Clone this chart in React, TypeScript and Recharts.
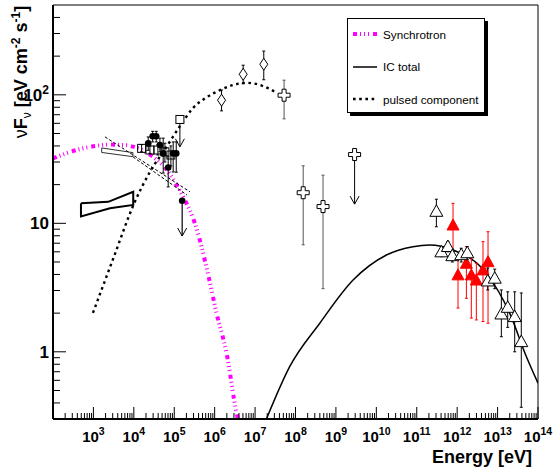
import React from 'react';
import { ComposedChart, Line, Scatter, XAxis, YAxis, ErrorBar, ReferenceArea, Legend } from 'recharts';

const FONT = '"Liberation Sans", Arial, Helvetica, sans-serif';

// energy [eV], nuF_nu [eV cm^-2 s^-1]
const synchrotron = [
  [1e2, 32.0], [1.98e2, 34.8], [4.65e2, 37.8], [1.09e3, 39.9], [2.56e3, 41.0], [6.03e3, 40.6],
  [1.06e4, 39.1], [1.88e4, 36.1], [3.33e4, 32.1], [5.87e4, 27.2], [1.04e5, 20.9], [1.83e5, 15.2],
  [3.24e5, 10.0], [6.79e5, 4.08], [1.11e6, 2.0], [1.97e6, 0.977], [3.48e6, 0.334], [3.75e6, 0.301],
];
const icTotal = [
  [1.92e7, 0.301], [7.23e7, 0.769], [3.99e8, 1.67], [2.66e9, 3.62], [1.78e10, 5.67], [8.07e10, 6.58],
  [2.09e11, 6.78], [7.87e11, 6.2], [5.27e12, 4.08], [1.99e13, 2.0], [5.14e13, 0.92], [1e14, 0.571],
];
const pulsed = [
  [975, 2.01], [3.13e3, 5.37], [1.0e4, 14.1], [2.5e4, 25.1], [6.47e4, 39.4], [1.38e5, 57.0],
  [2.89e5, 78.7], [6.07e5, 94.9], [1.35e6, 108.6], [2.82e6, 119], [6.15e6, 124], [1.58e7, 117],
  [3.39e7, 104],
];
const butterflyThick = [
  [492, 14.3], [2330, 14.7], [9660, 17.6], [9660, 13.9], [2560, 13.1], [492, 11.3], [492, 14.3],
];
const butterflyThin = [
  [1600, 38.6], [9500, 35.5], [9500, 33.0], [1600, 35.6], [1600, 38.6],
];
const slopeUpper = [[1.93e3, 47.1], [2.44e5, 17.6]];
const slopeLower = [[9.5e3, 32.9], [2.06e5, 16.6]];

// [E, F, low, high]
const xrayDots = [
  [2.27e4, 41.9, 37, 47], [2.92e4, 47.6, 43, 52], [3.58e4, 47.6, 43, 52], [4.42e4, 40.6, 36, 46],
  [5.33e4, 35.0, 24.6, 46], [7.08e4, 27.2, 19.2, 32.9], [9.42e4, 35.0, 25.1, 43], [1.12e5, 35.0, 25, 43],
];
const xraySquares = [
  [1.56e4, 38.3, 36, 41], [2.5e4, 37.2, 35, 40], [3.94e4, 37.2, 34, 41], [5.88e4, 36.0, 30, 42],
  [8.26e4, 34.0, 28, 40],
];
const diamonds = [[1.48e6, 90.8, 75, 109], [5.07e6, 144.5, 122, 170], [1.64e7, 173, 131, 219]];
const crosses = [[5.22e7, 99.3, 65, 130], [1.55e8, 17.3, 6.8, 28], [4.8e8, 13.5, 3.1, 23.7]];
const tevOpen = [
  [3.06e11, 12.4, 9.4, 15.4], [4.07e11, 6.0, 5.5, 6.6], [5.9e11, 6.6, 6.0, 7.2], [7.6e11, 5.6, 5.0, 6.3],
  [1.26e12, 5.7, 5.0, 6.4], [1.78e12, 5.9, 5.2, 6.6], [5.7e12, 3.56, 3.03, 4.49], [8.5e12, 3.74, 3.1, 4.4],
  [1.24e13, 1.97, 1.31, 3.03], [1.78e13, 2.22, 1.55, 2.93], [2.65e13, 1.88, 1.0, 2.93], [3.86e13, 1.2, 0.37, 2.87],
];
const tevRed = [
  [7.9e11, 9.7, 5.5, 14.3], [1.05e12, 3.97, 2.19, 5.35], [1.69e12, 4.89, 2.61, 6.58], [2.24e12, 3.97, 1.83, 5.37],
  [2.98e12, 3.62, 1.77, 4.89], [4.36e12, 4.34, 1.72, 7.2], [5.8e12, 5.03, 1.67, 8.6],
];
// upper limits [E, F, arrow end]
const squareLimit = [[1.38e5, 64.3, 39.4]];
const dotLimit = [[1.57e5, 15.0, 7.96]];
const crossLimit = [[2.9e9, 34.3, 14.1]];

const xDecades = [2, 3, 4, 5, 6, 7, 8, 9, 10, 11, 12, 13, 14];
const yDecades = [-1, 0, 1, 2];
const minorSteps = [2, 3, 4, 5, 6, 7, 8, 9];
const legendNames = ['Synchrotron', 'IC total', 'pulsed component'];

const xTicks = xDecades.flatMap((d) => [10 ** d, ...(d < 14 ? minorSteps.map((m) => m * 10 ** d) : [])]);
const yTicks = yDecades
  .flatMap((d) => [10 ** d, ...minorSteps.map((m) => m * 10 ** d)])
  .filter((v) => v > 0.301 && v < 499);

const curve = (pts: number[][]) => pts.map(([x, y]) => ({ x, y }));
const withErr = (pts: number[][]) => pts.map(([x, y, lo, hi]) => ({ x, y, err: [y - lo, hi - y] }));
const limitShaft = (pts: number[][]) => pts.map(([x, y, end]) => ({ x, y, err: [y - end, 0] }));
const limitTip = (pts: number[][]) => pts.map(([x, , end]) => ({ x, y: end }));

const isMajor = (v: number) => Math.abs(Math.log10(v) - Math.round(Math.log10(v))) < 1e-9;

const XTick = (props: any) => {
  const { x, y, payload } = props;
  const v = payload.value;
  const major = isMajor(v);
  const exp = Math.round(Math.log10(v));
  return (
    <g>
      <line x1={x} y1={y} x2={x} y2={y - (major ? 12 : 6)} stroke="#000" strokeWidth={1} />
      {major && exp > 2 && (
        <text x={x} y={y + 23} textAnchor="middle" fontFamily={FONT} fontWeight="bold" fontSize={15} fill="#000">
          10<tspan dy={-7} fontSize={10.5}>{exp}</tspan>
        </text>
      )}
    </g>
  );
};

const YTick = (props: any) => {
  const { x, y, payload } = props;
  const v = payload.value;
  const major = isMajor(v);
  const exp = Math.round(Math.log10(v));
  return (
    <g>
      <line x1={x} y1={y} x2={x + (major ? 13 : 7)} y2={y} stroke="#000" strokeWidth={1} />
      {major && (
        <text x={x - 4} y={y + 6} textAnchor="end" fontFamily={FONT} fontWeight="bold" fontSize={17} fill="#000">
          {exp === 0 ? '1' : '10'}
          {exp === 2 && <tspan dy={-7} fontSize={12}>2</tspan>}
        </text>
      )}
    </g>
  );
};

const XTitle = (props: any) => {
  const vb = props.viewBox;
  return (
    <text x={vb.x + vb.width - 6} y={vb.y + 44} textAnchor="end" fontFamily={FONT} fontWeight="bold" fontSize={18} fill="#000">
      Energy [eV]
    </text>
  );
};

const YTitle = (props: any) => {
  const vb = props.viewBox;
  return (
    <text
      transform={`translate(${vb.x + 27}, ${vb.y + 67}) rotate(-90)`}
      textAnchor="middle"
      fontFamily={FONT}
      fontWeight="bold"
      fontSize={18}
      fill="#000"
    >
      <tspan fontWeight="normal">ν</tspan>F<tspan fontWeight="normal" fontSize={12} dy={4}>ν</tspan>
      <tspan dy={-4}> [eV cm</tspan>
      <tspan dy={-7} fontSize={12}>-2</tspan>
      <tspan dy={7}> s</tspan>
      <tspan dy={-7} fontSize={12}>-1</tspan>
      <tspan dy={7}>]</tspan>
    </text>
  );
};

const lineLook: Record<string, { stroke: string; width: number; dash?: string }> = {
  Synchrotron: { stroke: '#ff00ff', width: 4, dash: '4 3 1 3 1 3 1 4' },
  'IC total': { stroke: '#000', width: 1.5 },
  'pulsed component': { stroke: '#000', width: 2.4, dash: '2.6 3.6' },
};

const LegendBox = () => (
  <div
    style={{
      width: 138,
      height: 95,
      border: '1px solid #000',
      boxSizing: 'border-box',
      background: '#fff',
      boxShadow: '3px 3px 0 #000',
      position: 'relative',
      fontFamily: FONT,
      fontSize: 11.7,
      color: '#000',
    }}
  >
    {legendNames.map((name, i) => {
      const s = lineLook[name];
      return (
        <div key={name} style={{ position: 'absolute', left: 4, top: 7 + i * 32.5, height: 16, display: 'flex', alignItems: 'center' }}>
          <svg width={26} height={8} style={{ display: 'block' }}>
            <line x1={1} y1={4} x2={25} y2={4} stroke={s.stroke} strokeWidth={s.width} strokeDasharray={s.dash} />
          </svg>
          <span style={{ marginLeft: 5, whiteSpace: 'nowrap' }}>{name}</span>
        </div>
      );
    })}
  </div>
);

const filledCircle = (p: any) => <circle cx={p.cx} cy={p.cy} r={3.3} fill="#000" />;
const openSquare = (p: any) => <rect x={p.cx - 4} y={p.cy - 4} width={8} height={8} fill="none" stroke="#000" />;
const limitSquare = (p: any) => <rect x={p.cx - 4} y={p.cy - 4} width={8} height={8} fill="#fff" stroke="#000" />;
const openDiamond = (p: any) => (
  <polygon
    points={`${p.cx},${p.cy - 6} ${p.cx + 4},${p.cy} ${p.cx},${p.cy + 6} ${p.cx - 4},${p.cy}`}
    fill="#fff"
    stroke="#000"
  />
);
const openCross = (p: any) => {
  const { cx, cy } = p;
  const a = 2, b = 6;
  const pts = [
    [cx - a, cy - b], [cx + a, cy - b], [cx + a, cy - a], [cx + b, cy - a], [cx + b, cy + a], [cx + a, cy + a],
    [cx + a, cy + b], [cx - a, cy + b], [cx - a, cy + a], [cx - b, cy + a], [cx - b, cy - a], [cx - a, cy - a],
  ];
  return <polygon points={pts.map((q) => q.join(',')).join(' ')} fill="#fff" stroke="#000" />;
};
const openTriangle = (p: any) => (
  <polygon
    points={`${p.cx},${p.cy - 6.5} ${p.cx + 6.5},${p.cy + 5} ${p.cx - 6.5},${p.cy + 5}`}
    fill="#fff"
    stroke="#000"
  />
);
const redTriangle = (p: any) => (
  <polygon
    points={`${p.cx},${p.cy - 6} ${p.cx + 6},${p.cy + 5} ${p.cx - 6},${p.cy + 5}`}
    fill="#ff0000"
    stroke="#ff0000"
  />
);
const arrowTip = (p: any) => (
  <polyline
    points={`${p.cx - 4.5},${p.cy - 8} ${p.cx},${p.cy} ${p.cx + 4.5},${p.cy - 8}`}
    fill="none"
    stroke="#000"
  />
);

export default function App() {
  return (
    <div style={{ position: 'absolute', left: 0, top: 0, background: '#fff' }}>
      <ComposedChart width={554} height={470} margin={{ top: 5, right: 16, bottom: 0, left: 0 }}>
        <XAxis
          type="number"
          dataKey="x"
          scale="log"
          domain={[1e2, 1e14]}
          allowDataOverflow
          ticks={xTicks}
          interval={0}
          tick={<XTick />}
          tickLine={false}
          tickSize={0}
          tickMargin={0}
          height={51}
          axisLine={{ stroke: '#000', strokeWidth: 2 }}
          label={<XTitle />}
        />
        <YAxis
          type="number"
          dataKey="y"
          scale="log"
          domain={[0.3, 500]}
          allowDataOverflow
          ticks={yTicks}
          interval={0}
          tick={<YTick />}
          tickLine={false}
          tickSize={0}
          tickMargin={0}
          width={53}
          axisLine={{ stroke: '#000', strokeWidth: 2 }}
          label={<YTitle />}
        />
        <ReferenceArea x1={1e2} x2={1e14} y1={0.3} y2={500} fill="none" stroke="#000" strokeWidth={1} ifOverflow="visible" />

        <Line data={curve(synchrotron)} dataKey="y" name="Synchrotron" type="monotone" stroke="#ff00ff" strokeWidth={4}
          strokeDasharray="4 3 1 3 1 3 1 4" dot={false} activeDot={false} isAnimationActive={false} />
        <Line data={curve(icTotal)} dataKey="y" name="IC total" type="monotone" stroke="#000" strokeWidth={1.5}
          dot={false} activeDot={false} isAnimationActive={false} />
        <Line data={curve(pulsed)} dataKey="y" name="pulsed component" type="monotone" stroke="#000" strokeWidth={2.4}
          strokeDasharray="2.6 3.6" dot={false} activeDot={false} isAnimationActive={false} />
        <Line data={curve(butterflyThick)} dataKey="y" type="linear" stroke="#000" strokeWidth={2} legendType="none"
          dot={false} activeDot={false} isAnimationActive={false} />
        <Line data={curve(butterflyThin)} dataKey="y" type="linear" stroke="#333" strokeWidth={1} legendType="none"
          dot={false} activeDot={false} isAnimationActive={false} />
        <Line data={curve(slopeUpper)} dataKey="y" type="linear" stroke="#000" strokeWidth={1} strokeDasharray="3 2"
          legendType="none" dot={false} activeDot={false} isAnimationActive={false} />
        <Line data={curve(slopeLower)} dataKey="y" type="linear" stroke="#000" strokeWidth={1} strokeDasharray="3 2"
          legendType="none" dot={false} activeDot={false} isAnimationActive={false} />

        <Scatter data={withErr(xraySquares)} shape={openSquare} legendType="none" isAnimationActive={false}>
          <ErrorBar dataKey="err" direction="y" width={1.5} stroke="#000" strokeWidth={1} />
        </Scatter>
        <Scatter data={withErr(xrayDots)} shape={filledCircle} legendType="none" isAnimationActive={false}>
          <ErrorBar dataKey="err" direction="y" width={1.5} stroke="#000" strokeWidth={1} />
        </Scatter>
        <Scatter data={limitShaft(squareLimit)} shape={limitSquare} legendType="none" isAnimationActive={false}>
          <ErrorBar dataKey="err" direction="y" width={0} stroke="#000" strokeWidth={1} />
        </Scatter>
        <Scatter data={limitShaft(dotLimit)} shape={filledCircle} legendType="none" isAnimationActive={false}>
          <ErrorBar dataKey="err" direction="y" width={0} stroke="#000" strokeWidth={1.2} />
        </Scatter>
        <Scatter data={limitShaft(crossLimit)} shape={openCross} legendType="none" isAnimationActive={false}>
          <ErrorBar dataKey="err" direction="y" width={0} stroke="#000" strokeWidth={1} />
        </Scatter>
        <Scatter data={limitTip([...squareLimit, ...dotLimit, ...crossLimit])} shape={arrowTip} legendType="none" isAnimationActive={false} />
        <Scatter data={withErr(diamonds)} shape={openDiamond} legendType="none" isAnimationActive={false}>
          <ErrorBar dataKey="err" direction="y" width={1.5} stroke="#000" strokeWidth={1} />
        </Scatter>
        <Scatter data={withErr(crosses)} shape={openCross} legendType="none" isAnimationActive={false}>
          <ErrorBar dataKey="err" direction="y" width={1.5} stroke="#555" strokeWidth={1} />
        </Scatter>
        <Scatter data={withErr(tevRed)} shape={redTriangle} legendType="none" isAnimationActive={false}>
          <ErrorBar dataKey="err" direction="y" width={1.5} stroke="#ff0000" strokeWidth={1} />
        </Scatter>
        <Scatter data={withErr(tevOpen)} shape={openTriangle} legendType="none" isAnimationActive={false}>
          <ErrorBar dataKey="err" direction="y" width={1.5} stroke="#000" strokeWidth={1} />
        </Scatter>

        <Legend
          layout="vertical"
          align="center"
          verticalAlign="middle"
          content={<LegendBox />}
          wrapperStyle={{ left: 347, top: 18, width: 141, height: 98 }}
        />
      </ComposedChart>
    </div>
  );
}
